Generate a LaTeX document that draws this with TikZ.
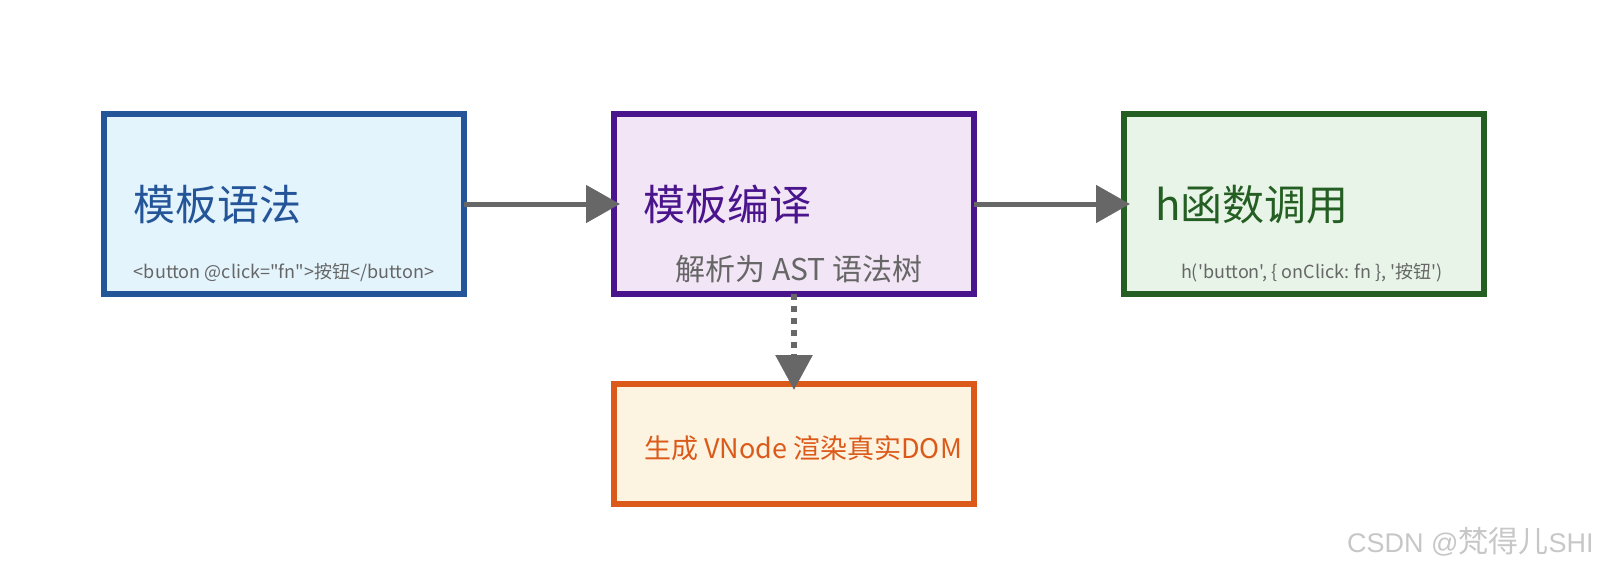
\documentclass[tikz,border=0pt]{standalone}
\usepackage{fontspec}
\newfontfamily\cjk{Noto Sans CJK SC}
\newfontfamily\wmfont{Liberation Sans}
\usepackage{tikz}
\usetikzlibrary{arrows.meta,positioning}

\definecolor{tplline}{HTML}{245599}
\definecolor{tplfill}{HTML}{E3F4FC}
\definecolor{cmpline}{HTML}{4A148C}
\definecolor{cmpfill}{HTML}{F2E5F5}
\definecolor{hfnline}{HTML}{245E22}
\definecolor{hfnfill}{HTML}{E8F4E8}
\definecolor{vnline}{HTML}{DB5A19}
\definecolor{vnfill}{HTML}{FDF3E1}
\definecolor{subgray}{HTML}{666666}
\definecolor{arrgray}{HTML}{676767}

\begin{document}
\begin{tikzpicture}[x=1pt, y=1pt,
  box/.style={draw, line width=6pt, minimum width=360pt, minimum height=180pt, inner sep=0pt, outer sep=0pt},
  ttl/.style={anchor=base west, inner sep=0pt, font=\cjk\fontsize{42}{50}\selectfont},
  sub/.style={anchor=base, inner sep=0pt, text=subgray, font=\cjk\fontsize{18}{22}\selectfont},
  arr/.style={line width=5pt, draw=arrgray, -{Triangle[length=34pt, width=37pt]}}
]
  \useasboundingbox (0,0) rectangle (1611,-573);

  % boxes
  \node[box, draw=tplline, fill=tplfill] (tpl) at (284,-204) {};
  \node[box, draw=cmpline, fill=cmpfill, right=150pt of tpl] (cmp) {};
  \node[box, draw=hfnline, fill=hfnfill, right=150pt of cmp] (hfn) {};
  \node[box, draw=vnline, fill=vnfill, minimum height=120pt, below=90pt of cmp] (vn) {};

  % texts
  \node[ttl, text=tplline] (tplt) at ([xshift=29pt, yshift=-16pt]tpl.west) {模板语法};
  \node[sub] (tpls) at ([yshift=-74pt]tpl.center) {<button @click="fn">按钮</button>};
  \node[ttl, text=cmpline] (cmpt) at ([xshift=29pt, yshift=-16pt]cmp.west) {模板编译};
  \node[sub, font=\cjk\fontsize{30}{34}\selectfont] (cmps) at ([xshift=5pt, yshift=-76pt]cmp.center) {解析为 AST 语法树};
  \node[ttl, text=hfnline] (hfnt) at ([xshift=31pt, yshift=-16pt]hfn.west) {h函数调用};
  \node[sub] (hfns) at ([xshift=8pt, yshift=-74pt]hfn.center) {h('button', \{ onClick: fn \}, '按钮')};
  \node[ttl, text=vnline, font=\cjk\fontsize{27}{32}\selectfont] (vnt) at ([xshift=30pt, yshift=-14pt]vn.west) {生成 VNode 渲染真实DOM};

  \node[anchor=base west, inner sep=0pt, text=black!22, font=\wmfont\fontsize{27}{32}\selectfont] (mark) at (1347,-552) {CSDN @{\cjk\fontsize{30}{34}\selectfont 梵得儿}SHI};

  % arrows
  \draw[arr] (tpl.east) -- ([xshift=6pt]cmp.west);
  \draw[arr] (cmp.east) -- ([xshift=6pt]hfn.west);
  \draw[arr, line width=6pt, dash pattern=on 6pt off 6pt, -{Triangle[length=35pt, width=36pt]}] (cmp.south) -- ([yshift=-6pt]vn.north);
\end{tikzpicture}
\end{document}
